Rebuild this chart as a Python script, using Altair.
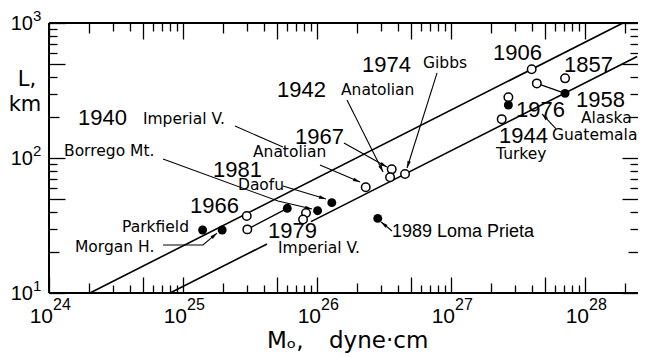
import math
import altair as alt
import pandas as pd

# ---------------- data ----------------
# filled circles: seismic moment M0 (dyne*cm) and rupture length L (km)
filled_M = [1.40e25, 1.96e25, 6.0e25, 1.01e26, 1.29e26, 2.84e26, 2.68e27, 7.10e27]
filled_L = [29.3, 29.3, 42.4, 40.7, 46.7, 35.7, 247, 301]
# open circles
open_M = [2.99e25, 3.02e25, 8.28e25, 7.87e25, 2.31e26, 3.61e26, 3.51e26, 4.54e26,
          2.39e27, 4.00e27, 4.37e27, 7.10e27, 2.68e27]
open_L = [37.2, 29.6, 39.2, 35.0, 60.7, 82.4, 71.9, 76.0, 194, 454, 357, 389, 282]

# the two reference lines (L ~ M0^1/2); lower one is broken behind "1979"
line_id = ["upper", "upper", "lower_a", "lower_a", "lower_b", "lower_b"]
line_M = [2.02e24, 1.92e28, 8.0e24, 4.24e25, 9.02e25, 2.45e28]
line_L = [10, 1000, 10, 23.1, 33.8, 565]

# tie lines joining pairs of estimates
tie_id = ["t1", "t1", "t2", "t2"]
tie_M = [3.02e25, 6.0e25, 4.37e27, 7.10e27]
tie_L = [29.6, 42.4, 357, 301]

# label leaders (log10 M0, log10 L), last point is the arrow tip
leaders = [
    ([25.388, 25.746], [2.237, 2.081], False),
    ([26.022, 26.321], [1.948, 1.822], True),
    ([26.201, 26.522], [2.111, 1.933], True),
    ([26.224, 26.493], [2.430, 1.896], True),
    ([26.896, 26.672], [2.630, 1.926], True),
    ([24.851, 25.709, 25.963], [1.993, 1.681, 1.622], True),
    ([25.746, 26.067], [1.793, 1.696], True),
    ([24.851, 25.149, 25.254], [1.356, 1.356, 1.444], True),
    ([26.560, 26.478], [1.459, 1.526], True),
    ([27.784, 27.679], [2.215, 2.326], True),
]

# text labels: text, log10 M0, log10 L, style group
label_text = ["1940", "Imperial V.", "1942", "Anatolian", "1974", "Gibbs", "1967",
              "Anatolian", "Borrego Mt.", "1981", "Daofu", "1966", "Parkfield",
              "Morgan H.", "1979", "Imperial V.", "1989  Loma Prieta", "1906", "1857",
              "1958", "Alaska", "1976", "1944", "Guatemala", "Turkey"]
label_logM = [24.216, 24.701, 25.701, 26.179, 26.336, 26.791, 25.836, 25.522, 24.112,
              25.224, 25.410, 25.052, 24.545, 24.194, 25.634, 25.709, 26.560, 27.313,
              27.843, 27.933, 27.970, 27.485, 27.358, 27.754, 27.336]
label_logL = [2.244, 2.252, 2.452, 2.467, 2.637, 2.667, 2.104, 2.007, 2.015, 1.859,
              1.763, 1.593, 1.452, 1.304, 1.407, 1.296, 1.415, 2.726, 2.637, 2.378,
              2.259, 2.304, 2.111, 2.133, 1.995]
label_kind = ["year", "name", "year", "name", "year", "name", "year", "name", "name",
              "year", "name", "year", "name", "name", "year", "name", "loma", "year",
              "year", "year", "name", "year", "year", "name", "name"]

# axis tick labels
x_exps = ["24", "25", "26", "27", "28"]
y_exps = ["1", "2", "3"]

# ---------------- scales ----------------
W, H = 589, 270
LX0, LX1 = 24.0, 28.3955
XS = alt.Scale(type="log", domain=[10 ** LX0, 10 ** LX1])
YS = alt.Scale(type="log", domain=[10, 1000])
PX_DEC = W / (LX1 - LX0)   # pixels per decade along x
PY_DEC = H / 2.0           # pixels per decade along y


def X(f="M"):
    return alt.X(f"{f}:Q", scale=XS, axis=None)


def Y(f="L"):
    return alt.Y(f"{f}:Q", scale=YS, axis=None)


one = pd.DataFrame({"a": [0]})
layers = []

# frame (left, top, bottom)
layers.append(alt.Chart(one).mark_rule(color="black", strokeWidth=2).encode(
    x=alt.value(0), y=alt.value(0), y2=alt.value(H)))
layers.append(alt.Chart(one).mark_rule(color="black", strokeWidth=2).encode(
    x=alt.value(0), x2=alt.value(W), y=alt.value(0)))
layers.append(alt.Chart(one).mark_rule(color="black", strokeWidth=2).encode(
    x=alt.value(0), x2=alt.value(W), y=alt.value(H)))


# inward ticks on all four sides, via axes moved onto the opposite edge
def tick_len(m):
    return 16 if m in (1, 5) else (10 if m == 2 else 8)


x_tick_vals = [(m * 10.0 ** d, m) for d in range(24, 29) for m in range(1, 10)
               if d + math.log10(m) <= LX1 + 1e-9]
y_tick_vals = [(m * 10.0 ** d, m) for d in (1, 2) for m in range(1, 10)] + [(1000.0, 1)]
df_carrier = pd.DataFrame({"M": filled_M, "L": filled_L})
for ln in (16, 10, 8):
    xv = [v for v, m in x_tick_vals if tick_len(m) == ln]
    yv = [v for v, m in y_tick_vals if tick_len(m) == ln]
    for xo, yo in (("top", "right"), ("bottom", "left")):
        ax_x = alt.Axis(orient=xo, offset=-H, values=xv, tickSize=ln, tickWidth=1.3,
                        tickColor="black", labels=False, domain=False, grid=False, title="")
        ax_y = alt.Axis(orient=yo, offset=-W, values=yv, tickSize=ln, tickWidth=1.3,
                        tickColor="black", labels=False, domain=False, grid=False, title="")
        layers.append(alt.Chart(df_carrier).mark_point(opacity=0).encode(
            x=alt.X("M:Q", scale=XS, axis=ax_x), y=alt.Y("L:Q", scale=YS, axis=ax_y)))

# reference lines
df_lines = pd.DataFrame({"id": line_id, "M": line_M, "L": line_L,
                         "o": list(range(len(line_id)))})
layers.append(alt.Chart(df_lines).mark_line(color="black", strokeWidth=1.6).encode(
    x=X(), y=Y(), detail="id:N", order="o:Q"))

# tie lines
df_tie = pd.DataFrame({"id": tie_id, "M": tie_M, "L": tie_L, "o": list(range(len(tie_id)))})
layers.append(alt.Chart(df_tie).mark_line(color="black", strokeWidth=1.3).encode(
    x=X(), y=Y(), detail="id:N", order="o:Q"))

# leaders
rows, tips = [], []
for i, (lm, ll, arrow) in enumerate(leaders):
    for j, (a, b) in enumerate(zip(lm, ll)):
        rows.append({"id": i, "o": j, "M": 10 ** a, "L": 10 ** b})
    if arrow:
        dx = (lm[-1] - lm[-2]) * PX_DEC
        dy = -(ll[-1] - ll[-2]) * PY_DEC
        ang = math.degrees(math.atan2(dx, -dy)) % 360
        tips.append({"M": 10 ** lm[-1], "L": 10 ** ll[-1], "ang": ang})
layers.append(alt.Chart(pd.DataFrame(rows)).mark_line(color="black", strokeWidth=1.1).encode(
    x=X(), y=Y(), detail="id:N", order="o:Q"))
layers.append(alt.Chart(pd.DataFrame(tips)).mark_point(
    shape="M0,0L0.5,2L-0.5,2Z", filled=True, color="black", size=49, opacity=1).encode(
    x=X(), y=Y(), angle=alt.Angle("ang:Q", scale=None)))

# open circles
df_open = pd.DataFrame({"M": open_M, "L": open_L})
layers.append(alt.Chart(df_open).mark_point(
    shape="circle", filled=False, fill="white", fillOpacity=1, stroke="black",
    strokeWidth=1.5, size=72, opacity=1).encode(x=X(), y=Y()))

# filled circles
df_fill = pd.DataFrame({"M": filled_M, "L": filled_L})
layers.append(alt.Chart(df_fill).mark_circle(color="black", size=80, opacity=1).encode(
    x=X(), y=Y()))

# text labels
df_lab = pd.DataFrame({"t": label_text, "M": [10 ** v for v in label_logM],
                       "L": [10 ** v for v in label_logL], "k": label_kind})
styles = {"year": ("Liberation Sans", 22), "name": ("DejaVu Sans", 15.5),
          "loma": ("Liberation Sans", 18)}
for kind, (font, fs) in styles.items():
    layers.append(alt.Chart(df_lab).transform_filter(alt.datum.k == kind).mark_text(
        align="left", baseline="alphabetic", font=font, fontSize=fs, color="black").encode(
        x=X(), y=Y(), text="t:N"))

# tick labels 10^n
df_xl = pd.DataFrame({"M": [10.0 ** int(e) for e in x_exps], "e": x_exps})
layers.append(alt.Chart(df_xl).mark_text(
    align="right", baseline="alphabetic", font="Liberation Sans", fontSize=21, dx=4,
    color="black").encode(x=X(), y=alt.value(H + 30), text=alt.value("10")))
layers.append(alt.Chart(df_xl).mark_text(
    align="left", baseline="alphabetic", font="Liberation Sans", fontSize=16, dx=4,
    color="black").encode(x=X(), y=alt.value(H + 17), text="e:N"))
df_yl = pd.DataFrame({"L": [10.0 ** int(e) for e in y_exps], "e": y_exps})
layers.append(alt.Chart(df_yl).mark_text(
    align="right", baseline="middle", font="Liberation Sans", fontSize=20, dy=1,
    color="black").encode(y=Y(), x=alt.value(-16), text=alt.value("10")))
layers.append(alt.Chart(df_yl).mark_text(
    align="left", baseline="middle", font="Liberation Sans", fontSize=15, dy=-7,
    color="black").encode(y=Y(), x=alt.value(-16), text="e:N"))

# axis titles
df_t = pd.DataFrame({"t": ["Mₒ,", "dyne·cm", "L,", "km"],
                     "px": [218, 280, -22, -24], "py": [325, 325, 63, 88],
                     "al": ["left", "left", "center", "center"]})
layers.append(alt.Chart(df_t).transform_filter(alt.datum.al == "left").mark_text(
    align="left", baseline="alphabetic", font="DejaVu Sans", fontSize=23, color="black").encode(
    x=alt.X("px:Q", scale=None), y=alt.Y("py:Q", scale=None), text="t:N"))
layers.append(alt.Chart(df_t).transform_filter(alt.datum.al == "center").mark_text(
    align="center", baseline="alphabetic", font="DejaVu Sans", fontSize=21, color="black").encode(
    x=alt.X("px:Q", scale=None), y=alt.Y("py:Q", scale=None), text="t:N"))

chart = alt.layer(*layers).properties(
    width=W, height=H,
    autosize=alt.AutoSizeParams(type="none"),
    padding={"left": 41, "top": 15, "right": 0, "bottom": 62},
).resolve_axis(x="independent", y="independent").configure_view(strokeWidth=0)

chart.save("out.html", embed_options={"renderer": "svg", "actions": False})
